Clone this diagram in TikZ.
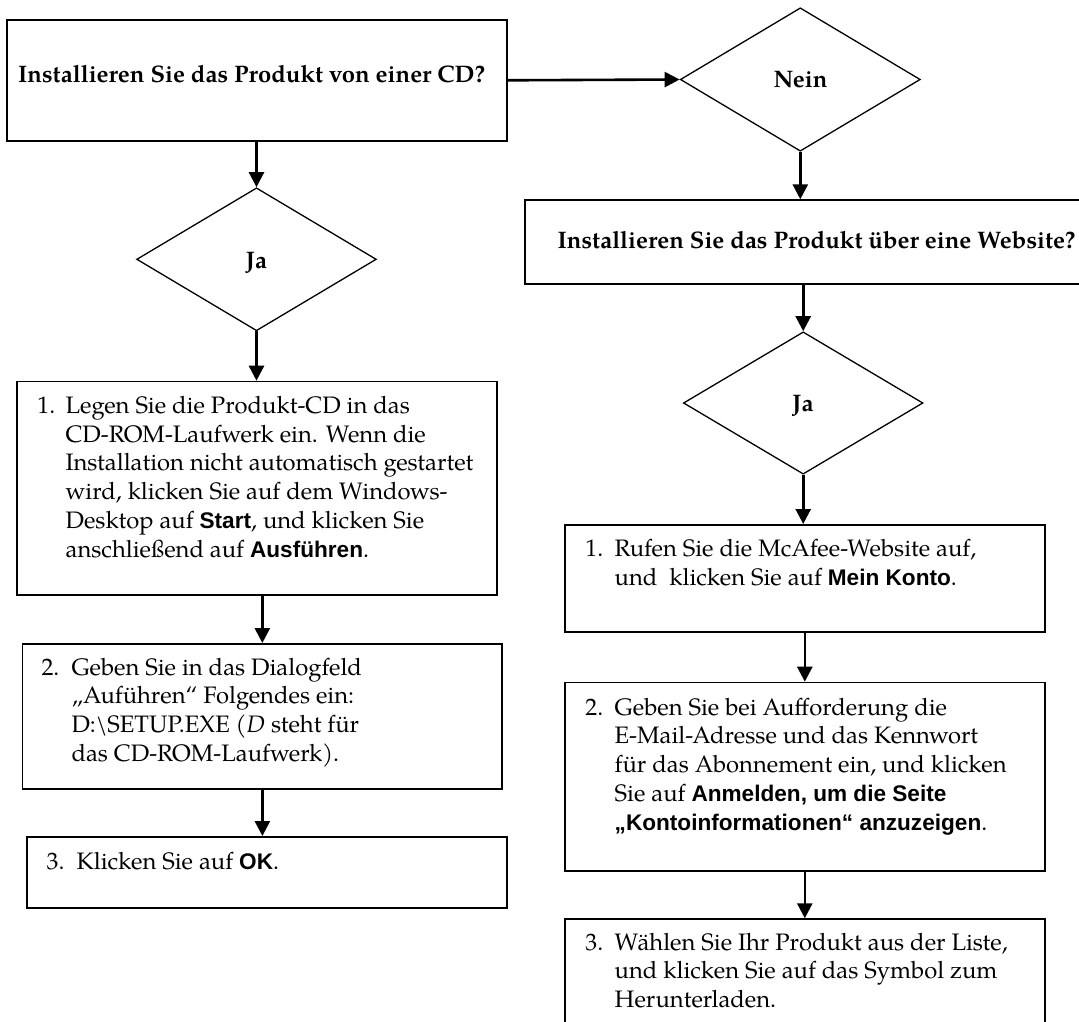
\documentclass[tikz,border=0pt]{standalone}
\usepackage{fontspec}
\setmainfont{texgyrepagella}[Extension=.otf, UprightFont=*-regular, BoldFont=*-bold, ItalicFont=*-italic, BoldItalicFont=*-bolditalic]
\setsansfont{Liberation Sans}
\usetikzlibrary{shapes.geometric,arrows.meta}
\newcommand\sfb[1]{{\fontsize{22.6}{28.8}\sffamily\bfseries #1}}
\begin{document}
\begin{tikzpicture}[x=1pt,y=-1pt,
  box/.style={draw, line width=1.6pt, rectangle, inner sep=0pt, anchor=north west},
  dia/.style={draw, line width=1.3pt, diamond, inner sep=0pt},
  arr/.style={line width=2.6pt, -{Triangle[length=15pt,width=15pt]}},
  body/.style={inner sep=0pt, anchor=base west, font=\fontsize{23.8}{28.8}\selectfont},
  head/.style={inner sep=0pt, anchor=base west, font=\fontsize{23.9}{28.8}\selectfont\bfseries},
  lbl/.style={inner sep=0pt, anchor=base, font=\fontsize{23.9}{28.8}\selectfont\bfseries}]
\useasboundingbox (0,0) rectangle (1079,1022);
\clip (0,0) rectangle (1079,1022);
\fill[white] (0,0) rectangle (1079,1022);

% shapes
\node[box, minimum width=500pt, minimum height=121pt] (A) at (6,19) {};
\node[dia, minimum width=240pt, minimum height=143.4pt] (N) at (800.3,79.5) {};
\node[box, minimum width=558pt, minimum height=84pt] (W) at (524.3,199.3) {};
\node[dia, minimum width=239.6pt, minimum height=142.3pt] (J2) at (803.2,403) {};
\node[box, minimum width=480pt, minimum height=107pt] (R1) at (564,524) {};
\node[box, minimum width=480pt, minimum height=188.3pt] (R2) at (564,681.7) {};
\node[box, minimum width=480pt, minimum height=130pt] (R3) at (564,918.3) {};
\node[dia, minimum width=239.7pt, minimum height=143pt] (J1) at (256.5,259.3) {};
\node[box, minimum width=480pt, minimum height=213.6pt] (L1) at (16,380.7) {};
\node[box, minimum width=479.7pt, minimum height=145pt] (L2) at (21.7,643) {};
\node[box, minimum width=480pt, minimum height=71pt] (L3) at (26,836) {};

% connectors
\draw[arr] (A.east) -- (N.west);
\draw[arr] (A.south -| J1.north) -- (J1.north);
\draw[arr] (N.south) -- (N.south |- W.north);
\draw[arr] (W.south -| J2.north) -- (J2.north);
\draw[arr] (J2.south) -- (J2.south |- R1.north);
\draw[arr] (R1.south) -- (R1.south |- R2.north);
\draw[arr] (R2.south) -- (R2.south |- R3.north);
\draw[arr] (J1.south) -- (J1.south |- L1.north);
\draw[arr] (L2.north |- L1.south) -- (L2.north);
\draw[arr] (262.4,788) coordinate (l2s) -- (l2s |- L3.north);

% texts
\node[head] (tA) at (18,82.7) {Installieren Sie das Produkt von einer CD?};
\node[lbl] (tN) at (800.5,87.3) {Nein};
\node[head] (tW) at (557.4,248.3) {Installieren Sie das Produkt über eine Website?};
\node[lbl] (tJ1) at (256.5,268.3) {Ja};
\node[lbl] (tJ2) at (803,411.7) {Ja};

\node[body] (nL1) at (37.2,413.3) {1.};
\node[body] (tL1) at (65.4,413.3) {\parbox[t]{440pt}{\raggedright
Legen Sie die Produkt-CD in das\\
CD-ROM-Laufwerk ein. Wenn die\\
Installation nicht automatisch gestartet\\
wird, klicken Sie auf dem Windows-\\
Desktop auf \sfb{Start}, und klicken Sie\\
anschließend auf \sfb{Ausführen}.}};

\node[body] (nL2) at (41.3,675) {2.};
\node[body] (tL2) at (71.3,675) {\parbox[t]{420pt}{\raggedright
Geben Sie in das Dialogfeld\\
„Auführen“ Folgendes ein:\\
D:\textbackslash SETUP.EXE (\textit{D} steht für\\
das CD-ROM-Laufwerk).}};

\node[body] (nL3) at (46.5,869.3) {3.};
\node[body] (tL3) at (76.4,869.3) {Klicken Sie auf \sfb{OK}.};

\node[body] (nR1) at (585.2,556.7) {1.};
\node[body] (tR1) at (614.5,556.7) {\parbox[t]{420pt}{\raggedright
Rufen Sie die McAfee-Website auf,\\
und\ \ klicken Sie auf \sfb{Mein Konto}.}};

\node[body] (nR2) at (585.2,715) {2.};
\node[body] (tR2) at (614.5,715) {\parbox[t]{420pt}{\raggedright
Geben Sie bei Aufforderung die\\
E-Mail-Adresse und das Kennwort\\
für das Abonnement ein, und klicken\\
Sie auf \sfb{Anmelden, um die Seite}\\
\sfb{„Kontoinformationen“ anzuzeigen}.}};

\node[body] (nR3) at (585.2,950) {3.};
\node[body] (tR3) at (614.5,950) {\parbox[t]{420pt}{\raggedright
Wählen Sie Ihr Produkt aus der Liste,\\
und klicken Sie auf das Symbol zum\\
Herunterladen.}};
\end{tikzpicture}
\end{document}
